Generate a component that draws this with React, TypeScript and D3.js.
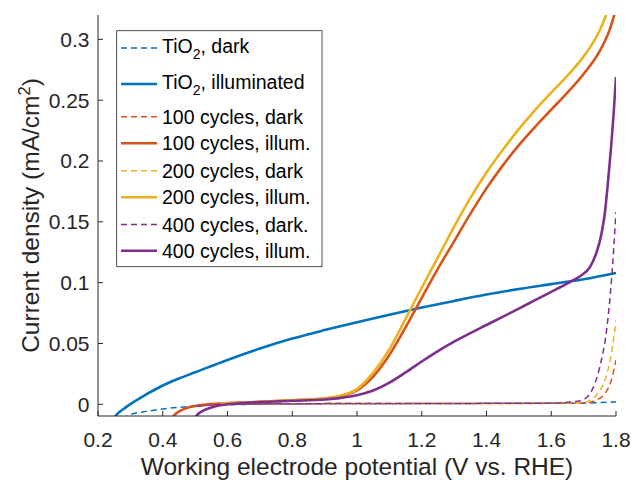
import React from 'react';
import * as d3 from 'd3';

// potential (V vs. RHE), current density (mA/cm2)
const tio2Dark: [number, number][] = [
  [0.275, -0.012], [0.3, -0.0085], [0.35, -0.0058], [0.4, -0.0038], [0.45, -0.0025], [0.5, -0.0015],
  [0.6, -0.0004], [0.7, 0.0001], [0.8, 0.0003], [1.0, 0.0005], [1.2, 0.0006], [1.4, 0.0008],
  [1.6, 0.0009], [1.7, 0.001], [1.75, 0.0015], [1.8, 0.002],
];
const tio2Illum: [number, number][] = [
  [0.248, -0.0115], [0.26, -0.0078], [0.27, -0.0055], [0.28, -0.0036], [0.3, 0.0002], [0.35, 0.0083],
  [0.4, 0.0155], [0.45, 0.0212], [0.5, 0.0263], [0.6, 0.0365], [0.7, 0.0458], [0.8, 0.054],
  [0.9, 0.061], [1.0, 0.0675], [1.1, 0.0737], [1.2, 0.0795], [1.3, 0.085], [1.4, 0.0902],
  [1.5, 0.0948], [1.6, 0.0988], [1.7, 0.1028], [1.8, 0.108],
];
const c100Dark: [number, number][] = [
  [0.48, -0.002], [0.55, -0.0006], [0.6, 0.0], [0.8, 0.0005], [1.0, 0.0006], [1.2, 0.0006],
  [1.4, 0.0007], [1.6, 0.0008], [1.7, 0.001], [1.74, 0.0035], [1.766, 0.009], [1.786, 0.02],
  [1.8, 0.0364],
];
const c100Illum: [number, number][] = [
  [0.428, -0.0115], [0.44, -0.0078], [0.46, -0.0046], [0.5, -0.0014], [0.55, 0.0002], [0.6, 0.001],
  [0.7, 0.002], [0.8, 0.0033], [0.9, 0.0047], [0.95, 0.0066], [1.0, 0.0115], [1.05, 0.0228],
  [1.1, 0.0405], [1.15, 0.0632], [1.2, 0.0875], [1.25, 0.1115], [1.3, 0.134], [1.35, 0.1565],
  [1.4, 0.1775], [1.45, 0.1962], [1.5, 0.213], [1.55, 0.228], [1.6, 0.2422], [1.65, 0.2562],
  [1.7, 0.2715], [1.75, 0.2905], [1.78, 0.3076], [1.8, 0.325],
];
const c200Dark: [number, number][] = [
  [0.5, -0.0015], [0.55, -0.0004], [0.6, 0.0], [0.8, 0.0005], [1.0, 0.0006], [1.2, 0.0006],
  [1.4, 0.0007], [1.6, 0.0009], [1.69, 0.0012], [1.72, 0.0035], [1.74, 0.0077], [1.766, 0.02],
  [1.786, 0.042], [1.8, 0.069],
];
const c200Illum: [number, number][] = [
  [0.58, 0.0006], [0.7, 0.0021], [0.8, 0.0034], [0.9, 0.005], [0.95, 0.0072], [1.0, 0.0125],
  [1.05, 0.026], [1.1, 0.0452], [1.15, 0.0702], [1.2, 0.0958], [1.25, 0.1208], [1.3, 0.146],
  [1.35, 0.1695], [1.4, 0.1905], [1.45, 0.209], [1.5, 0.2262], [1.55, 0.2418], [1.6, 0.2562],
  [1.65, 0.2702], [1.7, 0.2858], [1.75, 0.3075], [1.78, 0.327],
];
const c400Dark: [number, number][] = [
  [0.5, -0.0015], [0.55, -0.0005], [0.6, 0.0], [0.8, 0.0005], [1.0, 0.0006], [1.2, 0.0006],
  [1.4, 0.0008], [1.6, 0.001], [1.69, 0.003], [1.72, 0.009], [1.75, 0.031], [1.771, 0.061],
  [1.786, 0.102], [1.8, 0.158],
];
const c400Illum: [number, number][] = [
  [0.498, -0.0115], [0.51, -0.0078], [0.53, -0.0045], [0.56, -0.0017], [0.6, 0.0], [0.7, 0.0019],
  [0.8, 0.0029], [0.9, 0.004], [0.95, 0.0053], [1.0, 0.0074], [1.05, 0.0113], [1.1, 0.0178],
  [1.15, 0.0262], [1.2, 0.0352], [1.25, 0.0438], [1.3, 0.0515], [1.35, 0.0585], [1.4, 0.0652],
  [1.45, 0.0719], [1.5, 0.0787], [1.55, 0.0856], [1.6, 0.0925], [1.65, 0.0995], [1.69, 0.1055],
  [1.72, 0.113], [1.74, 0.125], [1.755, 0.14], [1.765, 0.156], [1.775, 0.182], [1.785, 0.212],
  [1.793, 0.24], [1.8, 0.269],
];

const seriesNames = [
  'TiO2, dark', 'TiO2, illuminated', '100 cycles, dark', '100 cycles, illum.',
  '200 cycles, dark', '200 cycles, illum.', '400 cycles, dark.', '400 cycles, illum.',
];
const seriesData = [tio2Dark, tio2Illum, c100Dark, c100Illum, c200Dark, c200Illum, c400Dark, c400Illum];
const seriesColors = ['#0072BD', '#0072BD', '#D95319', '#D95319', '#EDB120', '#EDB120', '#7E2F8E', '#7E2F8E'];
const seriesDashed = [true, false, true, false, true, false, true, false];

const xTicks = [0.2, 0.4, 0.6, 0.8, 1, 1.2, 1.4, 1.6, 1.8];
const yTicks = [0, 0.05, 0.1, 0.15, 0.2, 0.25, 0.3];

const W = 633, H = 483;
const left = 98, right = 616, top = 15, bottom = 416;
const axisColor = '#262626';
const font = '"Liberation Sans", Arial, Helvetica, sans-serif';

export default function App() {
  const x = d3.scaleLinear().domain([0.2, 1.8]).range([left, right]);
  const y = d3.scaleLinear().domain([-0.0096, 0.32]).range([bottom, top]);
  const line = d3.line<[number, number]>()
    .x(d => x(d[0]))
    .y(d => y(d[1]))
    .curve(d3.curveMonotoneX);

  const legendRows = [48, 84, 116.7, 143.3, 170.7, 197.3, 224.5, 250.7];

  const renderName = (name: string, ty: number) => {
    if (name.startsWith('TiO2')) {
      return (
        <text x={162} y={ty} fontSize={19.5} fill="#000" fontFamily={font}>
          TiO<tspan dy={6} fontSize={14}>2</tspan><tspan dy={-6}>{name.slice(4)}</tspan>
        </text>
      );
    }
    return <text x={162} y={ty} fontSize={19.5} fill="#000" fontFamily={font}>{name}</text>;
  };

  return (
    <svg width={W} height={H} style={{ position: 'absolute', left: 0, top: 0 }} fontFamily={font}>
      <rect width={W} height={H} fill="#fff" />
      <defs>
        <clipPath id="plotclip">
          <rect x={left} y={top} width={right - left} height={bottom - top} />
        </clipPath>
      </defs>

      <g clipPath="url(#plotclip)">
        {seriesData.map((d, i) => (
          <path key={i} d={line(d) || ''} fill="none" stroke={seriesColors[i]}
            strokeWidth={seriesDashed[i] ? 1.5 : 2.6}
            strokeDasharray={seriesDashed[i] ? '6,4' : undefined}
            strokeLinejoin="round" />
        ))}
      </g>

      {/* axes */}
      <line x1={left} x2={left} y1={top} y2={bottom} stroke={axisColor} strokeWidth={1} />
      <line x1={left} x2={right} y1={bottom} y2={bottom} stroke={axisColor} strokeWidth={1} />
      {xTicks.map(t => (
        <g key={'x' + t}>
          <line x1={x(t)} x2={x(t)} y1={bottom} y2={bottom - 5} stroke={axisColor} />
          <text x={x(t)} y={446.5} textAnchor="middle" fontSize={21} fill={axisColor}>{String(t)}</text>
        </g>
      ))}
      {yTicks.map(t => (
        <g key={'y' + t}>
          <line x1={left} x2={left + 5} y1={y(t)} y2={y(t)} stroke={axisColor} />
          <text x={89.5} y={y(t) + 7.5} textAnchor="end" fontSize={21} fill={axisColor}>{String(t)}</text>
        </g>
      ))}

      <text x={(left + right) / 2} y={475} textAnchor="middle" fontSize={24.5} fill={axisColor}>
        Working electrode potential (V vs. RHE)
      </text>
      <text transform={`translate(39,${(top + bottom) / 2}) rotate(-90)`} textAnchor="middle" fontSize={24.5} fill={axisColor}>
        Current density (mA/cm<tspan dy={-9} fontSize={16.5}>2</tspan><tspan dy={9}>)</tspan>
      </text>

      {/* legend */}
      <rect x={116.7} y={30.7} width={205.3} height={236} fill="#fff" stroke={axisColor} strokeWidth={0.8} />
      {seriesNames.map((name, i) => (
        <g key={name}>
          <line x1={121} x2={157} y1={legendRows[i]} y2={legendRows[i]}
            stroke={seriesColors[i]} strokeWidth={seriesDashed[i] ? 1.5 : 2.6}
            strokeDasharray={seriesDashed[i] ? '6,4' : undefined} />
          {renderName(name, legendRows[i] + (name.startsWith('TiO2') ? 5 : 7))}
        </g>
      ))}
    </svg>
  );
}
